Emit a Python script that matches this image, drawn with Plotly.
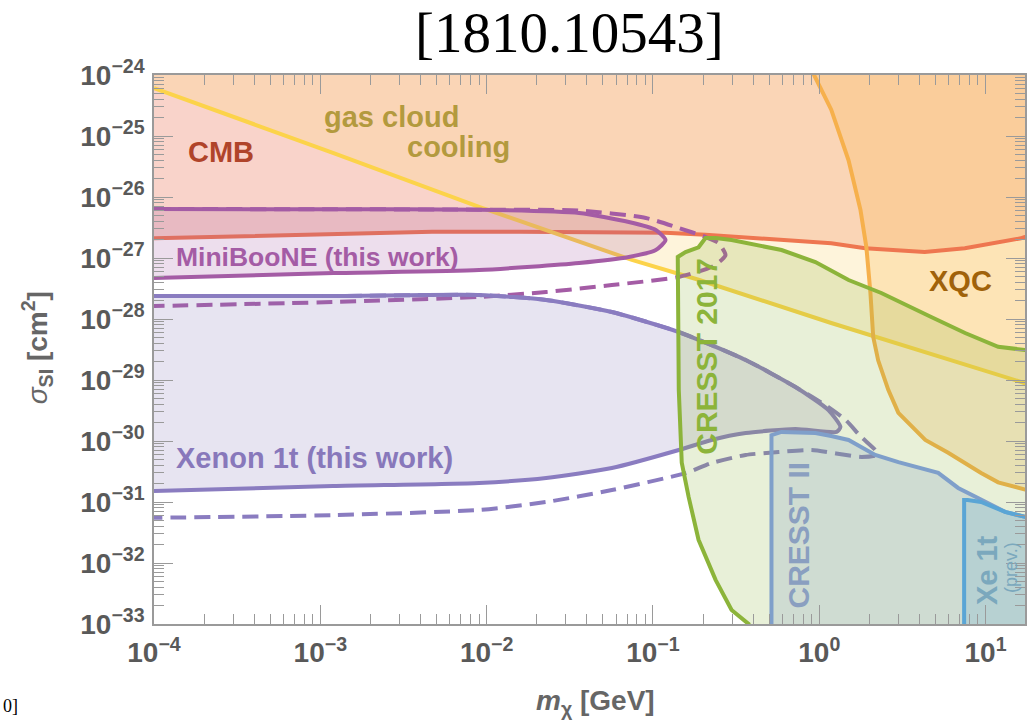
import plotly.graph_objects as go

# ---- axis ranges (log10 units) and out-of-frame closing values ----
X_RANGE = [-4, 1.237]
Y_RANGE = [-33, -24]
Y_TOP = 1e-23   # above the frame, closes regions excluded from above
Y_BOT = 6e-34   # below the frame, closes regions excluded from below

# ---- tick labels ----
x_tick_vals = [1e-4, 1e-3, 1e-2, 1e-1, 1, 10]
x_tick_text = ["10<sup>−4</sup>", "10<sup>−3</sup>", "10<sup>−2</sup>", "10<sup>−1</sup>",
               "10<sup>0</sup>", "10<sup>1</sup>"]
y_tick_vals = [1e-33, 1e-32, 1e-31, 1e-30, 1e-29, 1e-28, 1e-27, 1e-26, 1e-25, 1e-24]
y_tick_text = ["10<sup>−33</sup>", "10<sup>−32</sup>", "10<sup>−31</sup>", "10<sup>−30</sup>",
               "10<sup>−29</sup>", "10<sup>−28</sup>", "10<sup>−27</sup>", "10<sup>−26</sup>",
               "10<sup>−25</sup>", "10<sup>−24</sup>"]

# ---- CMB bound ----
cmb_m = [1e-4, 7.5e-4, 4.7e-3, 0.0157, 0.119, 0.207, 0.475, 1.18, 1.89, 4.3, 7.5, 16.3, 21]
cmb_s = [2.1e-27, 2.4e-27, 2.7e-27, 2.7e-27, 2.6e-27, 2.4e-27, 2.1e-27, 1.75e-27,
         1.45e-27, 1.25e-27, 1.45e-27, 2.1e-27, 2.7e-27]

# ---- gas cloud cooling bound ----
gas_m = [1e-4, 1.19e-3, 9.0e-3, 0.0747, 0.188, 1.18, 16.3, 27]
gas_s = [6.1e-25, 5.3e-26, 6.9e-27, 9.3e-28, 4.4e-28, 8.6e-29, 9.3e-30, 5.9e-30]

# ---- XQC bound ----
xqc_m = [0.90, 1.18, 1.50, 1.77, 1.92, 2.03, 2.11, 2.26, 2.60, 2.99, 4.34, 5.96, 9.4, 11.9, 17.3, 24]
xqc_s = [1.2e-24, 2.7e-25, 4.0e-26, 6.1e-27, 1.5e-27, 2.7e-28, 5.1e-29, 2.1e-29, 6.9e-30,
         2.9e-30, 1.04e-30, 6.4e-31, 3.0e-31, 2.1e-31, 1.6e-31, 1.5e-31]

# ---- MiniBooNE (this work): solid and dashed contours ----
mb_m = [1e-4, 1.2e-3, 9.0e-3, 0.036, 0.0716, 0.104, 0.119, 0.104, 0.0716, 0.036, 9.0e-3, 1.2e-3, 1e-4]
mb_s = [6.35e-27, 6.3e-27, 6.2e-27, 5.47e-27, 3.89e-27, 2.88e-27, 1.97e-27, 1.35e-27, 1.04e-27,
        8.3e-28, 6.35e-28, 5.67e-28, 4.7e-28]
mb_dash_m = [1e-4, 1.2e-3, 9.0e-3, 0.036, 0.0906, 0.143, 0.207, 0.248, 0.273, 0.259, 0.225, 0.143,
             0.0566, 0.0228, 9.0e-3, 1.2e-3, 1e-4]
mb_dash_s = [6.35e-27, 6.3e-27, 6.2e-27, 6.0e-27, 4.53e-27, 3.1e-27, 2.21e-27, 1.76e-27, 1.12e-27,
             9.3e-28, 7.1e-28, 4.89e-28, 3.6e-28, 2.77e-28, 2.3e-28, 1.9e-28, 1.63e-28]

# ---- Xenon 1t (this work): solid and dashed contours ----
xe_m = [1e-4, 1.19e-3, 9.0e-3, 0.0228, 0.0566, 0.143, 0.361, 0.719, 1.135, 1.34, 1.27, 0.719,
        0.361, 0.225, 0.143, 0.0566, 0.0228, 9.0e-3, 1.19e-3, 1e-4]
xe_s = [2.38e-28, 2.38e-28, 2.47e-28, 2.05e-28, 1.30e-28, 6.12e-29, 2.13e-29, 7.67e-30, 3.22e-30,
        1.70e-30, 1.41e-30, 1.57e-30, 1.35e-30, 1.04e-30, 7.11e-31, 3.6e-31, 2.47e-31, 2.05e-31,
        1.83e-31, 1.51e-31]
xe_dash_m = [1e-4, 1.19e-3, 9.0e-3, 0.0228, 0.0566, 0.143, 0.361, 0.719, 1.135, 1.44, 1.79, 2.17,
             2.22, 1.79, 0.90, 0.569, 0.361, 0.225, 0.157, 0.0566, 0.0228, 9.0e-3, 1.19e-3, 1e-4]
xe_dash_s = [2.38e-28, 2.38e-28, 2.47e-28, 2.05e-28, 1.30e-28, 6.12e-29, 2.13e-29, 7.67e-30,
             3.6e-30, 2.21e-30, 1.16e-30, 7.1e-31, 5.9e-31, 5.47e-31, 7.1e-31, 6.6e-31, 5.9e-31,
             4.35e-31, 2.98e-31, 1.57e-31, 1.0e-31, 7.4e-32, 6.1e-32, 5.5e-32]

# ---- CRESST 2017 ----
cr17_m = [0.40, 0.376, 0.297, 0.238, 0.188, 0.164, 0.149, 0.143, 0.141, 0.157, 0.188, 0.207, 0.238,
          0.297, 0.593, 0.948, 1.50, 2.36, 4.71, 7.53, 11.9, 16.3, 24]
cr17_s = [6e-34, 1e-33, 1.7e-33, 5.3e-33, 2.4e-32, 1.2e-31, 4.4e-31, 6.9e-30, 1.04e-27, 1.25e-27,
          1.5e-27, 2.13e-27, 2.13e-27, 1.97e-27, 1.35e-27, 8.6e-28, 4.35e-28, 2.67e-28, 1.08e-28,
          5.9e-29, 3.5e-29, 3.1e-29, 2.8e-29]

# ---- CRESST II ----
cr2_m = [0.516, 0.516, 0.593, 0.948, 1.18, 1.50, 2.17, 2.99, 5.19, 6.84, 9.0, 13.1, 17.3, 24]
cr2_s = [6e-34, 1.25e-30, 1.41e-30, 1.35e-30, 1.21e-30, 1.04e-30, 5.9e-31, 4.5e-31, 3.0e-31,
         1.7e-31, 1.16e-31, 6.9e-32, 5.7e-32, 4.9e-32]

# ---- Xe 1t (previous) ----
xe1_m = [7.43, 7.43, 7.8, 9.4, 13.1, 17.3, 24]
xe1_s = [6e-34, 1.08e-31, 1.08e-31, 1.0e-31, 6.9e-32, 5.7e-32, 4.9e-32]

fig = go.Figure()
LW = 4
DASH = "16px,8px"


def fill_region(xs, ys, color, smooth=False):
    fig.add_trace(go.Scatter(x=xs, y=ys, mode="lines", fill="toself", fillcolor=color,
                             line=dict(width=0, shape="spline" if smooth else "linear",
                                       smoothing=0.6),
                             hoverinfo="skip"))


def curve(xs, ys, color, dash=None, smooth=False):
    fig.add_trace(go.Scatter(x=xs, y=ys, mode="lines",
                             line=dict(color=color, width=LW, dash=dash,
                                       shape="spline" if smooth else "linear", smoothing=0.6),
                             hoverinfo="skip"))


# regions excluded from above
fill_region(cmb_m + [cmb_m[-1], cmb_m[0]], cmb_s + [Y_TOP, Y_TOP], "rgba(235,110,80,0.30)")
fill_region(gas_m + [gas_m[-1], gas_m[0]], gas_s + [Y_TOP, Y_TOP], "rgba(251,219,137,0.30)")
fill_region(xqc_m + [xqc_m[-1], xqc_m[0]], xqc_s + [Y_TOP, Y_TOP], "rgba(250,185,86,0.27)")
curve(cmb_m, cmb_s, "#ee7650")
curve(gas_m, gas_s, "#fcd34a")
curve(xqc_m, xqc_s, "#f6b04c")

# MiniBooNE
fill_region(mb_m, mb_s, "rgba(165,90,165,0.20)", smooth=True)
curve(mb_m, mb_s, "#a45ca5", smooth=True)
curve(mb_dash_m, mb_dash_s, "#a45ca5", dash=DASH, smooth=True)

# Xenon 1t (this work)
fill_region(xe_m, xe_s, "rgba(136,120,187,0.20)", smooth=True)
curve(xe_m, xe_s, "#8a7cc0", smooth=True)
curve(xe_dash_m, xe_dash_s, "#8a7cc0", dash=DASH, smooth=True)

# direct detection
fill_region(cr17_m + [cr17_m[-1]], cr17_s + [Y_BOT], "rgba(140,180,60,0.20)")
curve(cr17_m, cr17_s, "#8cb43a")
fill_region(cr2_m + [cr2_m[-1]], cr2_s + [Y_BOT], "rgba(120,150,190,0.22)")
curve(cr2_m, cr2_s, "#7f9fca")
fill_region(xe1_m + [xe1_m[-1]], xe1_s + [Y_BOT], "rgba(90,165,210,0.20)")
curve(xe1_m, xe1_s, "#5aa5d5")

# ---- layout geometry (pixels) ----
W, H = 1027, 725
L, T, PW, PH = 154, 75, 873, 549


def at(px, py):
    return (px - L) / PW, (T + PH - py) / PH


def label(px, py, text, color, size, angle=0, family="Liberation Sans"):
    x, y = at(px, py)
    fig.add_annotation(x=x, y=y, xref="paper", yref="paper", text=text, showarrow=False,
                       textangle=angle, xanchor="center", yanchor="middle",
                       font=dict(family=family, size=size, color=color))


label(221, 152, "<b>CMB</b>", "#b0442a", 29)
label(392, 117, "<b>gas cloud</b>", "#b39a3e", 29)
label(459, 147, "<b>cooling</b>", "#b39a3e", 29)
label(318, 257, "<b>MiniBooNE (this work)</b>", "#a45ca5", 26.5)
label(315, 458, "<b>Xenon 1t (this work)</b>", "#8878bb", 29)
label(962, 281, "<b>XQC</b>", "#a0620a", 29)
label(707, 356, "<b>CRESST 2017</b>", "#8cb43a", 30, angle=-90)
label(799, 535, "<b>CRESST II</b>", "#8a9fc0", 30, angle=-90)
label(989, 570, "<b>Xe 1t</b>", "#7ba8bd", 29, angle=-90)
label(1013, 568, "(prev.)", "#7ba8bd", 18, angle=-90)

# title and axis titles
label(570, 33, "[1810.10543]", "black", 57, family="Liberation Serif")
label(597, 702, "<b><i>m</i><sub>χ</sub> [GeV]</b>", "#666666", 28)
label(37, 348, "<i>σ</i><sub><b>SI</b></sub><b> [cm<sup>2</sup>]</b>", "#666666", 28, angle=-90)
label(10, 706, "0]", "black", 18, family="Liberation Serif")

axis_common = dict(
    type="log", tickmode="array", showgrid=False, zeroline=False,
    showline=True, linecolor="#9a9a9a", linewidth=1.5, mirror="ticks",
    ticks="inside", ticklen=19, tickwidth=1.3, tickcolor="#9a9a9a",
    tickfont=dict(family="Liberation Sans", size=28, color="#595959", weight="bold"),
    minor=dict(ticks="inside", ticklen=10, tickwidth=1.1, tickcolor="#9a9a9a", dtick="D1",
               showgrid=False),
)

fig.update_layout(
    width=W, height=H,
    margin=dict(l=L, r=W - L - PW, t=T, b=H - T - PH),
    paper_bgcolor="white", plot_bgcolor="white",
    showlegend=False,
    xaxis=dict(range=X_RANGE, tickvals=x_tick_vals, ticktext=x_tick_text,
               ticklabelstandoff=3, **axis_common),
    yaxis=dict(range=Y_RANGE, tickvals=y_tick_vals, ticktext=y_tick_text,
               ticklabelstandoff=2, **axis_common),
)

fig.write_html("out.html")
